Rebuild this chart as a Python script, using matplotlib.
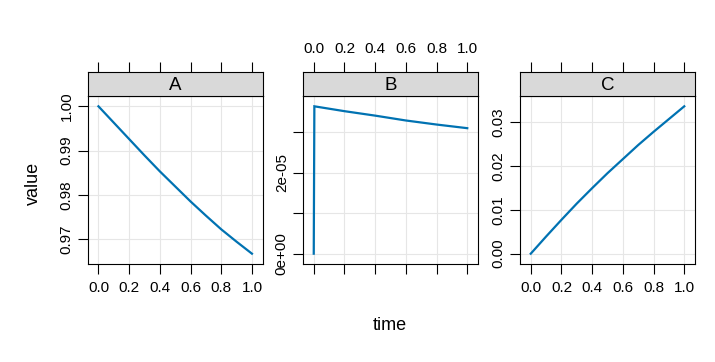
"""Three-panel lattice-style plot of species A, B, C over time."""
import matplotlib

matplotlib.use("Agg")
import matplotlib.pyplot as plt
from matplotlib.ticker import FixedLocator

plt.rcParams["font.family"] = ["Liberation Sans", "DejaVu Sans"]

# data
time_ac = [0.0, 0.1, 0.2, 0.3, 0.4, 0.5, 0.6, 0.7, 0.8, 0.9, 1.0]
value_a = [1.0, 0.9963, 0.9926, 0.9889, 0.9853, 0.9819, 0.9785, 0.9753, 0.9722, 0.9694, 0.9667]
value_c = [0.0, 0.0039, 0.0077, 0.0114, 0.0149, 0.0183, 0.0215, 0.0247, 0.0277, 0.0306, 0.0335]
time_b = [0.0, 0.004, 0.2, 0.4, 0.6, 0.8, 1.0]
value_b = [0.0, 3.64e-5, 3.52e-5, 3.41e-5, 3.29e-5, 3.19e-5, 3.10e-5]

panel_names = ["A", "B", "C"]
x_ticks = [0.0, 0.2, 0.4, 0.6, 0.8, 1.0]
y_ticks = {
    "A": ([0.97, 0.98, 0.99, 1.00], ["0.97", "0.98", "0.99", "1.00"]),
    "B": ([0.0, 1e-5, 2e-5, 3e-5], ["0e+00", "", "2e-05", ""]),
    "C": ([0.0, 0.01, 0.02, 0.03], ["0.00", "0.01", "0.02", "0.03"]),
}

LINE_COLOR = "#0072B2"
GRID_COLOR = "#E6E6E6"
STRIP_COLOR = "#D9D9D9"
W, H = 715, 362
TICK_SIZE = 11


def _pad(lo, hi, frac=0.07):
    d = (hi - lo) * frac
    return lo - d, hi + d


def main():
    fig = plt.figure(figsize=(W / 100, H / 100), dpi=100)
    series = {
        "A": (time_ac, value_a),
        "B": (time_b, value_b),
        "C": (time_ac, value_c),
    }
    lefts = [87.7, 303.0, 520.0]
    width = 175.0
    plot_top, plot_bottom, strip_top = 96.0, 264.0, 71.7
    xlim = _pad(0.0, 1.0)

    for i, name in enumerate(panel_names):
        xs, ys = series[name]
        ax = fig.add_axes([lefts[i] / W, (H - plot_bottom) / H, width / W,
                           (plot_bottom - plot_top) / H])
        ax.plot(xs, ys, color=LINE_COLOR, lw=1.6, solid_joinstyle="miter")
        ax.set_xlim(*xlim)
        ax.set_ylim(*_pad(min(ys), max(ys)))
        ax.set_xticks(x_ticks)
        ax.yaxis.set_major_locator(FixedLocator(y_ticks[name][0]))
        ax.set_yticklabels(y_ticks[name][1], rotation=90, va="center")
        ax.grid(True, color=GRID_COLOR, lw=0.8)
        ax.set_axisbelow(True)
        ax.tick_params(direction="out", length=7.2, width=0.8,
                       labelsize=TICK_SIZE, pad=5, colors="black")
        ax.tick_params(axis="y", pad=3)
        ax.tick_params(axis="x", bottom=True, labelbottom=(name != "B"))
        for sp in ax.spines.values():
            sp.set_linewidth(0.8)

        strip = fig.add_axes([lefts[i] / W, (H - plot_top) / H, width / W,
                              (plot_top - strip_top) / H])
        strip.set_facecolor(STRIP_COLOR)
        strip.set_xlim(*xlim)
        strip.set_xticks(x_ticks)
        strip.set_yticks([])
        strip.xaxis.set_ticks_position("top")
        strip.tick_params(axis="x", direction="out", length=7.2, width=0.8,
                          labelsize=TICK_SIZE, pad=4, labeltop=(name == "B"))
        for sp in strip.spines.values():
            sp.set_linewidth(0.8)
        strip.text(0.5, 0.45, name, transform=strip.transAxes, ha="center",
                   va="center", fontsize=13.5)

    fig.text(33 / W, 1 - 183 / H, "value", rotation=90, ha="center",
             va="center", fontsize=13)
    fig.text(390 / W, 1 - 325 / H, "time", ha="center", va="center",
             fontsize=13)
    fig.savefig("out.png", dpi=100)


if __name__ == "__main__":
    main()
